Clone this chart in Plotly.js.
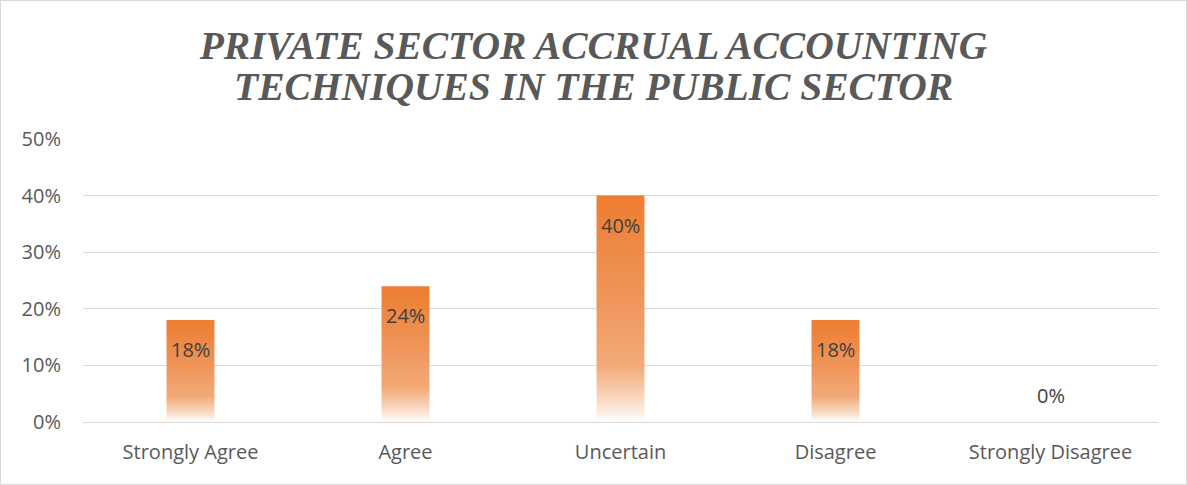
<!DOCTYPE html>
<html>
<head>
<meta charset="utf-8">
<script src="https://cdn.plot.ly/plotly-3.0.1.min.js"></script>
<style>
  html, body { margin: 0; padding: 0; background: #fff; }
  #chart { width: 1185px; height: 483px; border: 1px solid #D9D9D9; }
</style>
</head>
<body>
<div id="chart"></div>
<script>
const categories = ["Strongly Agree", "Agree", "Uncertain", "Disagree", "Strongly Disagree"];
const values = [0.18, 0.24, 0.40, 0.18, 0.00];
const labels = ["18%", "24%", "40%", "18%", "0%"];
const yTickVals = [0, 0.1, 0.2, 0.3, 0.4, 0.5];
const yTickText = ["0%", "10%", "20%", "30%", "40%", "50%"];
const titleLine1 = "PRIVATE SECTOR ACCRUAL ACCOUNTING";
const titleLine2 = "TECHNIQUES IN THE PUBLIC SECTOR";

const W = 1185, H = 483;
const M = { l: 82, r: 28, t: 138, b: 62 };
const titleFont = { family: "'Liberation Serif', 'Times New Roman', serif", size: 39.5, color: "#595959", weight: "bold", style: "italic" };
const labelFont = { family: "'Open Sans', sans-serif", size: 20, color: "#404040" };
const tickFont = { family: "'Open Sans', sans-serif", size: 20, color: "#595959" };

const trace = {
  type: "bar",
  x: categories,
  y: values,
  marker: { color: "#ED7D31", line: { width: 0 } },
  hoverinfo: "none"
};

const plotH = H - M.t - M.b;
const plotW = W - M.l - M.r;

const annotations = categories.map(function (c, i) {
  const v = values[i];
  return {
    x: c, y: v, xref: "x", yref: "y",
    text: labels[i],
    showarrow: false,
    font: labelFont,
    xanchor: "center",
    yanchor: v > 0 ? "top" : "bottom",
    yshift: v > 0 ? -14 : 11
  };
});

annotations.push({
  text: titleLine2,
  showarrow: false,
  xref: "paper", yref: "paper",
  x: (W / 2 - M.l) / plotW,
  y: (M.t + plotH - 86) / plotH,
  xanchor: "center", yanchor: "middle",
  font: titleFont
});

const layout = {
  width: W,
  height: H,
  margin: M,
  paper_bgcolor: "#ffffff",
  plot_bgcolor: "#ffffff",
  bargap: 0.777,
  showlegend: false,
  title: {
    text: titleLine1,
    font: titleFont,
    x: 0.5,
    xanchor: "center",
    xref: "container",
    y: 1 - 44 / H,
    yanchor: "middle",
    yref: "container"
  },
  annotations: annotations,
  xaxis: {
    type: "category",
    showgrid: false,
    showline: true,
    linecolor: "#D9D9D9",
    linewidth: 1,
    ticks: "",
    ticklabelstandoff: 12,
    tickfont: tickFont,
    zeroline: false
  },
  yaxis: {
    range: [0, 0.5],
    tickvals: yTickVals,
    ticktext: yTickText,
    showgrid: true,
    gridcolor: "#D9D9D9",
    gridwidth: 1,
    zeroline: false,
    showline: false,
    ticks: "",
    ticklabelstandoff: 21,
    tickfont: tickFont
  }
};

Plotly.newPlot("chart", [trace], layout, { displayModeBar: false, staticPlot: true }).then(function (gd) {
  const svg = gd.querySelector("svg.main-svg");
  let defs = svg.querySelector("defs");
  const ns = "http://www.w3.org/2000/svg";
  if (!defs) { defs = document.createElementNS(ns, "defs"); svg.insertBefore(defs, svg.firstChild); }
  const grad = document.createElementNS(ns, "linearGradient");
  grad.setAttribute("id", "barGrad");
  grad.setAttribute("x1", "0"); grad.setAttribute("y1", "0");
  grad.setAttribute("x2", "0"); grad.setAttribute("y2", "1");
  const stops = [
    [0, "#ED7D31", 1],
    [0.45, "#EF955A", 1],
    [0.75, "#F2AA78", 1],
    [0.86, "#F6C6A4", 0.9],
    [1, "#FFFFFF", 1]
  ];
  stops.forEach(function (s) {
    const st = document.createElementNS(ns, "stop");
    st.setAttribute("offset", s[0]);
    st.setAttribute("stop-color", s[1]);
    st.setAttribute("stop-opacity", s[2]);
    grad.appendChild(st);
  });
  defs.appendChild(grad);
  gd.querySelectorAll(".barlayer .point path").forEach(function (p) {
    p.style.fill = "url(#barGrad)";
  });
});
</script>
</body>
</html>
